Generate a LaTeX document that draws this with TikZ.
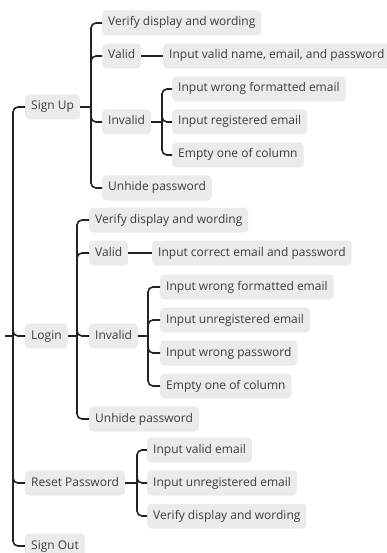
\documentclass[tikz,border=0pt]{standalone}
\usepackage{fontspec}
\setmainfont{Open Sans}
\usetikzlibrary{positioning}
\definecolor{boxgray}{HTML}{EBEBEB}
\definecolor{txtgray}{HTML}{3C3C3C}
\definecolor{linegray}{HTML}{222222}
\tikzset{
  topic/.style={fill=boxgray, text=txtgray, rounded corners=4pt, anchor=west,
    inner xsep=6pt, inner ysep=6.5pt, text height=9pt, text depth=3pt,
    font=\fontsize{12}{14}\selectfont},
  link/.style={draw=linegray, line width=1.6pt, rounded corners=5pt},
}

\begin{document}
\begin{tikzpicture}[x=1pt, y=-1pt]
  \useasboundingbox (0,0) rectangle (387,553);

  % main branches
  \coordinate (root) at (5,336);
  \coordinate (sp0) at (13,336);
  \node[topic] (signup) at (25,107) {Sign Up};
  \node[topic] (login) at (25,336) {Login};
  \node[topic] (reset) at (25,483) {Reset Password};
  \node[topic] (signout) at (25,546) {Sign Out};
  \draw[link] (root) -- (sp0);
  \foreach \n in {signup,login,reset,signout}
    \draw[link] (sp0) |- (\n.west);

  % sign up
  \coordinate (sp1) at (91,107);
  \draw[link] (signup.east) -- (sp1);
  \foreach \n/\y/\t in {suVerify/23/Verify display and wording, suValid/56/Valid,
      suInvalid/122/Invalid, suUnhide/188/Unhide password}
    {
      \node[topic] (\n) at (102,\y) {\t};
      \draw[link] (sp1) |- (\n.west);
    }
  \node[topic] (suValidIn) at (163,56) {Input valid name, email, and password};
  \draw[link] (suValid.east) -- (suValidIn.west);
  \coordinate (sp2) at (162,122);
  \draw[link] (suInvalid.east) -- (sp2);
  \foreach \n/\y/\t in {suWrong/89/Input wrong formatted email,
      suReg/122/Input registered email, suEmpty/155/Empty one of column}
    {
      \node[topic] (\n) at (172,\y) {\t};
      \draw[link] (sp2) |- (\n.west);
    }

  % login
  \coordinate (sp3) at (77,336);
  \draw[link] (login.east) -- (sp3);
  \foreach \n/\y/\t in {lgVerify/220/Verify display and wording, lgValid/253/Valid,
      lgInvalid/336/Invalid, lgUnhide/419/Unhide password}
    {
      \node[topic] (\n) at (89,\y) {\t};
      \draw[link] (sp3) |- (\n.west);
    }
  \node[topic] (lgValidIn) at (152,253) {Input correct email and password};
  \draw[link] (lgValid.east) -- (lgValidIn.west);
  \coordinate (sp4) at (148,336);
  \draw[link] (lgInvalid.east) -- (sp4);
  \foreach \n/\y/\t in {lgWrong/287/Input wrong formatted email,
      lgUnreg/320/Input unregistered email, lgWrongPw/353/Input wrong password,
      lgEmpty/386/Empty one of column}
    {
      \node[topic] (\n) at (160,\y) {\t};
      \draw[link] (sp4) |- (\n.west);
    }

  % reset password
  \coordinate (sp5) at (137,483);
  \draw[link] (reset.east) -- (sp5);
  \foreach \n/\y/\t in {rpValid/450/Input valid email,
      rpUnreg/483/Input unregistered email, rpVerify/516/Verify display and wording}
    {
      \node[topic] (\n) at (147,\y) {\t};
      \draw[link] (sp5) |- (\n.west);
    }
\end{tikzpicture}
\end{document}
